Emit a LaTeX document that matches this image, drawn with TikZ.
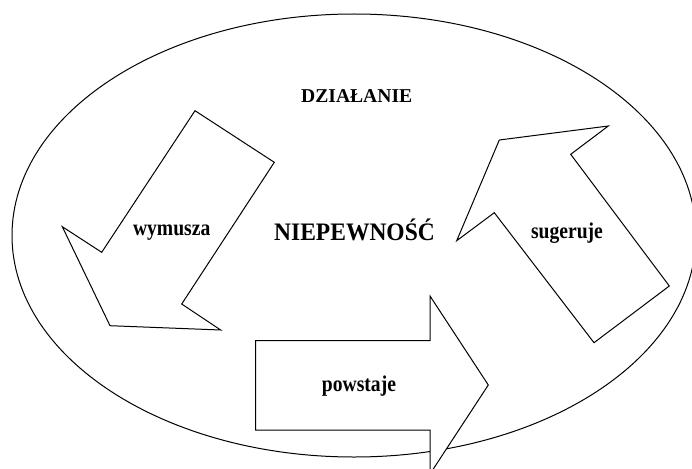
\documentclass[tikz,border=0pt]{standalone}
\usepackage{fontspec}
\setmainfont{Liberation Serif}
\usetikzlibrary{positioning}
\tikzset{arrowbox/.style={
            draw,
            fill=white,
            line width=1pt,
            line join=miter
        },
        field/.style={
            draw,
            line width=1pt
        },
        word/.style={
            font=\bfseries\fontsize{19.6}{22}\selectfont,
            anchor=base,
            inner sep=0pt,
            yscale=1.15,
            transform shape
        },
        mainword/.style={
            font=\bfseries\fontsize{23.5}{26}\selectfont,
            anchor=base,
            inner sep=0pt,
            yscale=1.07,
            transform shape
        }
    }
\begin{document}
\begin{tikzpicture}[x=1pt,y=-1pt]
    \useasboundingbox (0,0) rectangle (692,468);
    \clip (0,0) rectangle (692,468);

    \draw[field] (354,235.5) ellipse [x radius=342pt, y radius=221.5pt];

    % wymusza
    \draw[arrowbox] (195,110.7) -- (274.3,162.3) -- (181.7,304) -- (220.7,330)
        -- (110,325.7) -- (62.3,226.7) -- (101.7,252.3) -- cycle;
    % sugeruje
    \draw[arrowbox] (608.3,126) -- (570.7,154.3) -- (669.3,286) -- (594,342.7)
        -- (494.3,212.7) -- (456.7,240.7) -- (499.3,140) -- cycle;
    % powstaje
    \draw[arrowbox] (255.7,340.7) -- (430,340.7) -- (430,296) -- (488.3,385)
        -- (430,474) -- (430,430) -- (255.7,430) -- cycle;

    \node[word,yscale=0.87] (dzialanie) at (356.7,102.7) {DZIAŁANIE};
    \node[mainword] (niepewnosc) at (354.5,240.5) {NIEPEWNOŚĆ};
    \node[word] (wymusza) at (171.7,235) {wymusza};
    \node[word] (sugeruje) at (567,238.3) {sugeruje};
    \node[word] (powstaje) at (359,391.5) {powstaje};
\end{tikzpicture}
\end{document}
